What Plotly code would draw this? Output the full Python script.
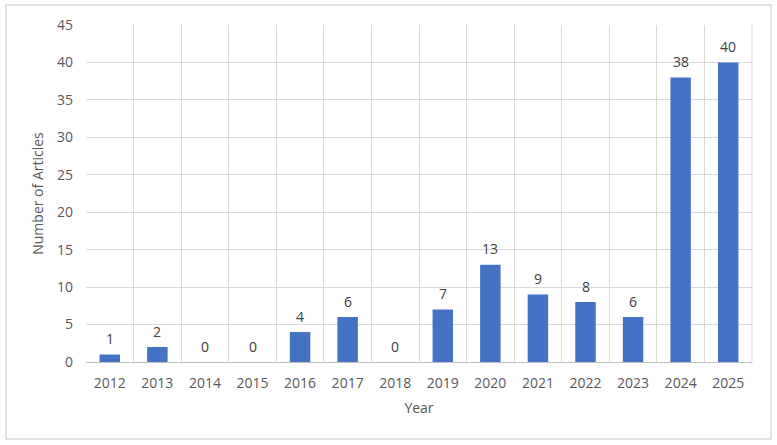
import plotly.graph_objects as go

years = ["2012", "2013", "2014", "2015", "2016", "2017", "2018", "2019",
         "2020", "2021", "2022", "2023", "2024", "2025"]
articles = [1, 2, 0, 0, 4, 6, 0, 7, 13, 9, 8, 6, 38, 40]

W, H = 777, 445
L, R, T, B = 86, 25, 25, 83
pw, ph = W - L - R, H - T - B
FONT = "Open Sans"

def px_x(x):
    return (x - L) / pw

def px_y(y):
    return (H - B - y) / ph

fig = go.Figure(go.Bar(
    x=years, y=articles,
    marker=dict(color="#4472C4", line=dict(width=0)),
    width=0.43,
    hoverinfo="x+y",
))

for i, v in enumerate(articles):
    fig.add_annotation(
        x=i, y=v, text=str(v), showarrow=False,
        yanchor="middle", yshift=16,
        font=dict(family=FONT, size=14, color="#404040"),
    )

fig.update_layout(
    width=W, height=H,
    margin=dict(l=L, r=R, t=T, b=B),
    paper_bgcolor="white", plot_bgcolor="white",
    font=dict(family=FONT, size=14, color="#595959"),
    showlegend=False,
    xaxis=dict(
        type="category", tickson="boundaries", showgrid=True,
        range=[-0.5, len(years) - 0.5],
        categoryorder="array", categoryarray=years,
        gridcolor="#d9d9d9", gridwidth=1,
        showline=True, linecolor="#bfbfbf", linewidth=1,
        ticks="", ticklabelstandoff=8, tickangle=0,
        tickfont=dict(family=FONT, size=14, color="#595959"),
        title=dict(text="Year", font=dict(family=FONT, size=14, color="#595959"), standoff=12),
    ),
    yaxis=dict(
        range=[0, 45], dtick=5, showgrid=True, gridcolor="#d9d9d9",
        gridwidth=1, zeroline=False, showline=False, ticks="",
        ticklabelstandoff=12,
        tickfont=dict(family=FONT, size=14, color="#595959"),
        title=dict(text="Number of Articles", font=dict(family=FONT, size=14, color="#595959"), standoff=10),
    ),
    shapes=[
        dict(type="rect", xref="paper", yref="paper",
             x0=px_x(6), x1=px_x(771), y0=px_y(439), y1=px_y(5),
             line=dict(color="#d9d9d9", width=1.5), layer="below"),
        dict(type="line", xref="paper", yref="paper",
             x0=1, x1=1, y0=0, y1=1, line=dict(color="#d9d9d9", width=1)),
    ],
)

fig.write_html("out.html")
